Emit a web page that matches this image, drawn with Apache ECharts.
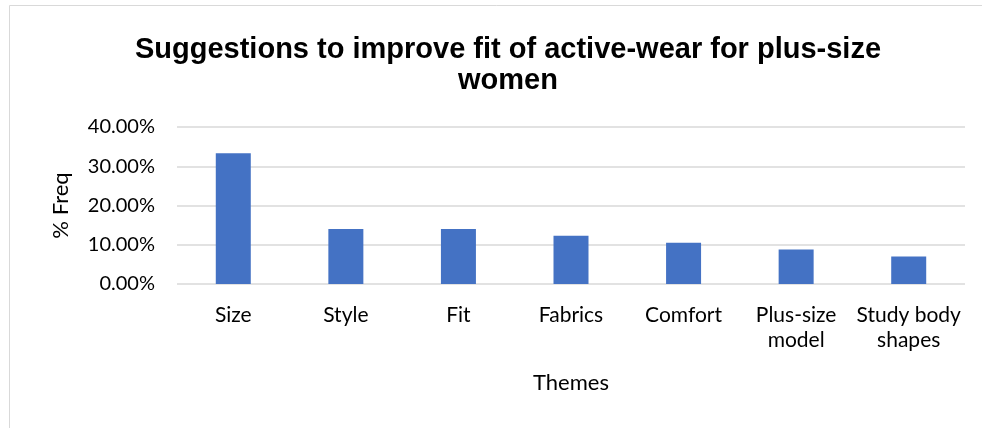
<!DOCTYPE html>
<html><head><meta charset="utf-8">
<script src="https://cdn.jsdelivr.net/npm/echarts@6/dist/echarts.min.js"></script>
<style>html,body{margin:0;padding:0;background:#fff}#c{width:982px;height:428px}</style>
</head><body><div id="c"></div>
<script>
const categories = ['Size', 'Style', 'Fit', 'Fabrics', 'Comfort', 'Plus-size\nmodel', 'Study body\nshapes'];
const values = [33.33, 14.04, 14.04, 12.28, 10.53, 8.77, 7.02];
const yTicks = [0, 10, 20, 30, 40];
const titleText = 'Suggestions to improve fit of active-wear for plus-size\nwomen';
const labelFont = 'Lato, "Open Sans", sans-serif';
const chart = echarts.init(document.getElementById('c'), null, {renderer: 'canvas'});
chart.setOption({
  animation: false,
  backgroundColor: '#fff',
  graphic: [{type: 'rect', shape: {x: 9.5, y: 5.5, width: 990, height: 440}, style: {fill: 'none', stroke: '#d9d9d9', lineWidth: 1}, silent: true}],
  title: {
    text: titleText, left: 503, top: 29, textAlign: 'center',
    textStyle: {fontFamily: '"Liberation Sans", Arial, sans-serif', fontWeight: 'bold', fontSize: 29, color: '#000', lineHeight: 31}
  },
  grid: {left: 177, right: 17, top: 127, bottom: 144, containLabel: false},
  xAxis: {
    type: 'category', data: categories,
    name: 'Themes', nameLocation: 'middle', nameGap: 88,
    nameTextStyle: {fontFamily: labelFont, fontSize: 22, color: '#000'},
    axisLine: {show: false}, axisTick: {show: false},
    axisLabel: {interval: 0, fontFamily: labelFont, fontSize: 21, color: '#000', margin: 19, lineHeight: 25}
  },
  yAxis: {
    type: 'value', min: yTicks[0], max: yTicks[yTicks.length - 1], interval: 10,
    name: '% Freq', nameLocation: 'middle', nameGap: 105, nameRotate: 90,
    nameTextStyle: {fontFamily: labelFont, fontSize: 22, color: '#000'},
    axisLine: {show: false}, axisTick: {show: false},
    axisLabel: {formatter: v => v.toFixed(2) + '%', fontFamily: labelFont, fontSize: 20, color: '#000', margin: 22},
    splitLine: {lineStyle: {color: '#d9d9d9', width: 1.5}}
  },
  series: [{
    type: 'bar', data: values, barWidth: 35,
    itemStyle: {color: '#4472c4'}
  }]
});
</script></body></html>
